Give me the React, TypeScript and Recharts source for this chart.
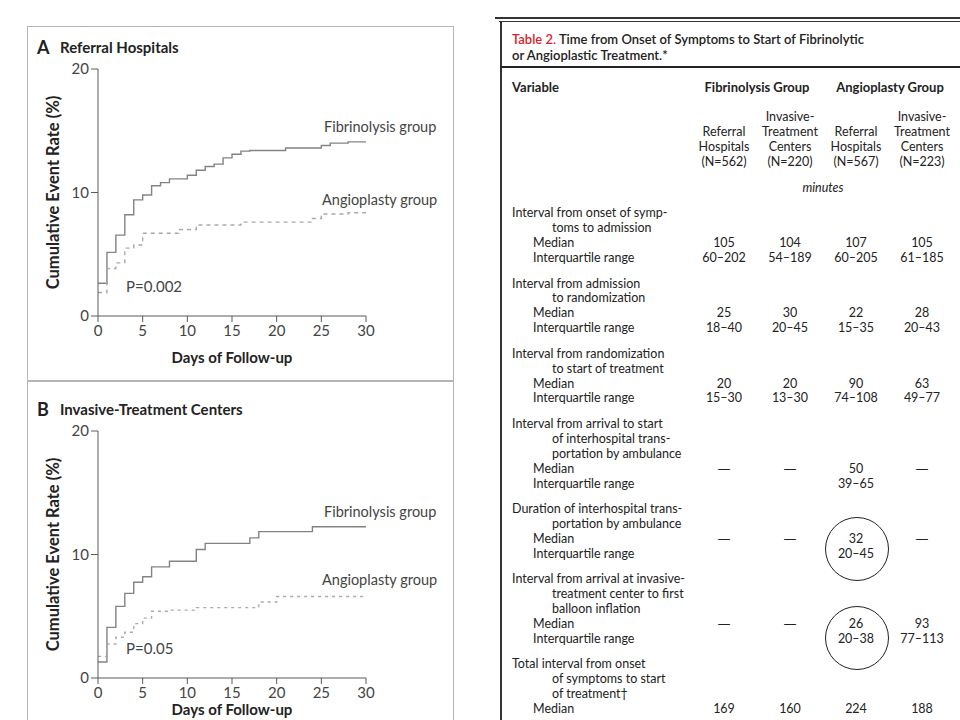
import React from 'react';
import { LineChart, Line, XAxis, YAxis } from 'recharts';

const dayTicks = [0, 5, 10, 15, 20, 25, 30];
const rateTicks = [0, 10, 20];

// A: referral hospitals
const fibDaysA = [0, 1, 2, 3, 4, 5, 6, 7, 8, 10, 11, 12, 13, 14, 15, 16, 17, 21, 25, 26, 28, 30];
const fibRateA = [2.65, 5.15, 6.55, 8.2, 9.4, 9.8, 10.55, 10.8, 11.1, 11.4, 11.8, 12.1, 12.3, 12.8, 13.1, 13.35, 13.4, 13.6, 13.8, 14.0, 14.1, 14.1];
const angioDaysA = [0, 1, 2, 3, 4, 5, 9, 11, 16, 24, 25, 28, 30];
const angioRateA = [1.9, 3.85, 4.3, 5.5, 5.75, 6.7, 7.0, 7.37, 7.6, 7.9, 8.26, 8.36, 8.36];

// B: invasive-treatment centers
const fibDaysB = [0, 1, 2, 3, 4, 5, 6, 8, 11, 12, 17, 18, 24, 30];
const fibRateB = [1.3, 4.1, 5.8, 6.85, 7.75, 8.2, 9.0, 9.45, 10.4, 10.9, 11.35, 11.85, 12.25, 12.25];
const angioDaysB = [0, 1, 2, 3, 4, 5, 6, 8, 11, 18, 20, 30];
const angioRateB = [1.75, 2.75, 3.3, 3.7, 4.4, 4.85, 5.4, 5.5, 5.7, 6.15, 6.6, 6.6];

// table 2
const subColumns = [
  ['', 'Referral', 'Hospitals', '(N=562)'],
  ['Invasive-', 'Treatment', 'Centers', '(N=220)'],
  ['', 'Referral', 'Hospitals', '(N=567)'],
  ['Invasive-', 'Treatment', 'Centers', '(N=223)'],
];
const tableVariables = [
  ['Interval from onset of symp-', 'toms to admission'],
  ['Interval from admission', 'to randomization'],
  ['Interval from randomization', 'to start of treatment'],
  ['Interval from arrival to start', 'of interhospital trans-', 'portation by ambulance'],
  ['Duration of interhospital trans-', 'portation by ambulance'],
  ['Interval from arrival at invasive-', 'treatment center to first', 'balloon inflation'],
  ['Total interval from onset', 'of symptoms to start', 'of treatment†'],
];
const tableMedians = [
  ['105', '104', '107', '105'],
  ['25', '30', '22', '28'],
  ['20', '20', '90', '63'],
  ['—', '—', '50', '—'],
  ['—', '—', '32', '—'],
  ['—', '—', '26', '93'],
  ['169', '160', '224', '188'],
];
const tableIqrs = [
  ['60–202', '54–189', '60–205', '61–185'],
  ['18–40', '20–45', '15–35', '20–43'],
  ['15–30', '13–30', '74–108', '49–77'],
  ['', '', '39–65', ''],
  ['', '', '20–45', ''],
  ['', '', '20–38', '77–113'],
  null,
];
const circledGroups = [4, 5];

const FONT = 'Lato, "Noto Sans", sans-serif';
const colX = [724, 790, 856, 922];

const toPoints = (days: number[], rates: number[]) =>
  days.map((d, i) => ({ day: d, rate: rates[i] }));

const T = ({ x, y, children, anchor = 'left', size = 13, weight = 400, color = '#222', style = {} }: any) => (
  <div
    style={{
      position: 'absolute',
      top: y - 9,
      height: 18,
      lineHeight: '18px',
      left: anchor === 'center' ? x - 100 : x,
      width: anchor === 'center' ? 200 : undefined,
      textAlign: anchor === 'center' ? 'center' : 'left',
      fontSize: size,
      fontWeight: weight,
      color,
      whiteSpace: 'nowrap',
      fontFamily: FONT,
      ...style,
    }}
  >
    {children}
  </div>
);

// em dash drawn in a font whose dash is a full em wide
const cellText = (v: string) =>
  v === '—' ? <span style={{ fontFamily: '"DejaVu Sans", sans-serif', fontSize: 13 }}>—</span> : v;

function Panel({ off, letter, title, fib, angio, fibY, angioY, pText, pY, dash, xLabelOffset }: any) {
  return (
    <>
      <T x={37} y={47 + off} size={18} weight={700}>{letter}</T>
      <T x={60} y={47 + off} size={15} weight={700}>{title}</T>
      <div style={{ position: 'absolute', left: 27, top: 26 + off }}>
        <LineChart width={427} height={355} margin={{ top: 43, right: 88, bottom: 0, left: 0 }}>
          <XAxis
            type="number"
            dataKey="day"
            domain={[0, 30]}
            ticks={dayTicks}
            height={65}
            tickSize={6}
            tickMargin={3}
            stroke="#5a5a5a"
            tick={{ fill: '#444', fontSize: 15, fontFamily: FONT }}
            label={{
              value: 'Days of Follow-up',
              position: 'insideBottom',
              offset: xLabelOffset,
              fill: '#222',
              fontSize: 15,
              fontWeight: 700,
              fontFamily: FONT,
            }}
          />
          <YAxis
            type="number"
            domain={[0, 20]}
            ticks={rateTicks}
            width={71}
            tickSize={7}
            tickMargin={2}
            stroke="#5a5a5a"
            tick={{ fill: '#444', fontSize: 15, fontFamily: FONT }}
            label={{
              value: 'Cumulative Event Rate (%)',
              angle: -90,
              position: 'insideLeft',
              offset: 26,
              fill: '#222',
              fontSize: 16.5,
              fontWeight: 700,
              fontFamily: FONT,
              style: { textAnchor: 'middle' },
            }}
          />
          <Line
            data={fib}
            dataKey="rate"
            type="stepAfter"
            stroke="#838383"
            strokeWidth={1.4}
            dot={false}
            isAnimationActive={false}
          />
          <Line
            data={angio}
            dataKey="rate"
            type="stepAfter"
            stroke="#aaa"
            strokeWidth={1.4}
            strokeDasharray={dash}
            dot={false}
            isAnimationActive={false}
          />
        </LineChart>
      </div>
      <T x={324} y={fibY} size={14.5} color="#444">Fibrinolysis group</T>
      <T x={322} y={angioY} size={14.5} color="#444">Angioplasty group</T>
      <T x={126} y={pY} size={15} color="#444">{pText}</T>
    </>
  );
}

function Table2() {
  const rows: React.ReactNode[] = [];
  let y = 213.3;
  const L = 14.9;
  tableVariables.forEach((lines, g) => {
    lines.forEach((ln, i) => {
      rows.push(<T key={`v${g}-${i}`} x={i === 0 ? 512 : 552} y={y} size={12.5}>{ln}</T>);
      y += L;
    });
    const medY = y;
    rows.push(<T key={`m${g}`} x={533} y={y} size={12.5}>Median</T>);
    tableMedians[g].forEach((v, c) =>
      rows.push(<T key={`mv${g}-${c}`} x={colX[c]} y={y} anchor="center" size={12.5}>{cellText(v)}</T>)
    );
    const iq = tableIqrs[g];
    if (iq) {
      y += L;
      rows.push(<T key={`q${g}`} x={533} y={y} size={12.5}>Interquartile range</T>);
      iq.forEach((v, c) =>
        rows.push(<T key={`qv${g}-${c}`} x={colX[c]} y={y} anchor="center" size={12.5}>{v}</T>)
      );
    }
    if (circledGroups.includes(g)) {
      const cy = g === 4 ? medY + 10.5 : medY + 14.5;
      rows.push(
        <div
          key={`c${g}`}
          style={{
            position: 'absolute',
            left: colX[2] + 1 - 32,
            top: cy - 32,
            width: 64,
            height: 64,
            borderRadius: '50%',
            border: '1.3px solid #222',
            boxSizing: 'border-box',
          }}
        />
      );
    }
    y += 25.5;
  });

  return (
    <>
      <div style={{ position: 'absolute', left: 495, top: 16.5, width: 465, height: 2, background: '#333' }} />
      <div style={{ position: 'absolute', left: 499, top: 20.5, width: 461, height: 1, background: '#333' }} />
      <div style={{ position: 'absolute', left: 499.5, top: 20.5, width: 2.5, height: 700, background: '#333' }} />
      <div style={{ position: 'absolute', left: 501, top: 66, width: 459, height: 1.5, background: '#222' }} />
      <T x={512} y={38.5} size={13} weight={600}>
        <span style={{ color: '#e0202a' }}>Table 2.</span> Time from Onset of Symptoms to Start of Fibrinolytic
      </T>
      <T x={512} y={55} size={13} weight={600}>or Angioplastic Treatment.*</T>
      <T x={512} y={87} size={13} weight={700}>Variable</T>
      <T x={757} y={87} size={13} weight={700} anchor="center">Fibrinolysis Group</T>
      <T x={890} y={87} size={13} weight={700} anchor="center">Angioplasty Group</T>
      {subColumns.map((lines, c) =>
        lines.map((ln, i) => (
          <T key={`h${c}-${i}`} x={colX[c]} y={117.3 + i * 14.8} anchor="center" size={12.5}>{ln}</T>
        ))
      )}
      <T x={823} y={187.7} anchor="center" size={12.5} style={{ fontStyle: 'italic' }}>minutes</T>
      {rows}
    </>
  );
}

export default function App() {
  return (
    <div
      style={{
        position: 'fixed',
        left: 0,
        top: 0,
        width: 960,
        height: 720,
        background: '#fff',
        overflow: 'hidden',
        fontFamily: FONT,
      }}
    >
      <div style={{ position: 'absolute', left: 27, top: 26, width: 427, height: 355, border: '1px solid #b5b5b5', boxSizing: 'border-box' }} />
      <div style={{ position: 'absolute', left: 27, top: 381, width: 427, height: 380, border: '1px solid #b5b5b5', boxSizing: 'border-box' }} />
      <Panel
        off={0}
        letter="A"
        title="Referral Hospitals"
        fib={toPoints(fibDaysA, fibRateA)}
        angio={toPoints(angioDaysA, angioRateA)}
        fibY={127}
        angioY={200}
        pText="P=0.002"
        pY={286}
        dash="4 4"
        xLabelOffset={18}
      />
      <Panel
        off={362}
        letter="B"
        title="Invasive-Treatment Centers"
        fib={toPoints(fibDaysB, fibRateB)}
        angio={toPoints(angioDaysB, angioRateB)}
        fibY={512}
        angioY={580}
        pText="P=0.05"
        pY={648}
        dash="3 4"
        xLabelOffset={28}
      />
      <Table2 />
    </div>
  );
}
